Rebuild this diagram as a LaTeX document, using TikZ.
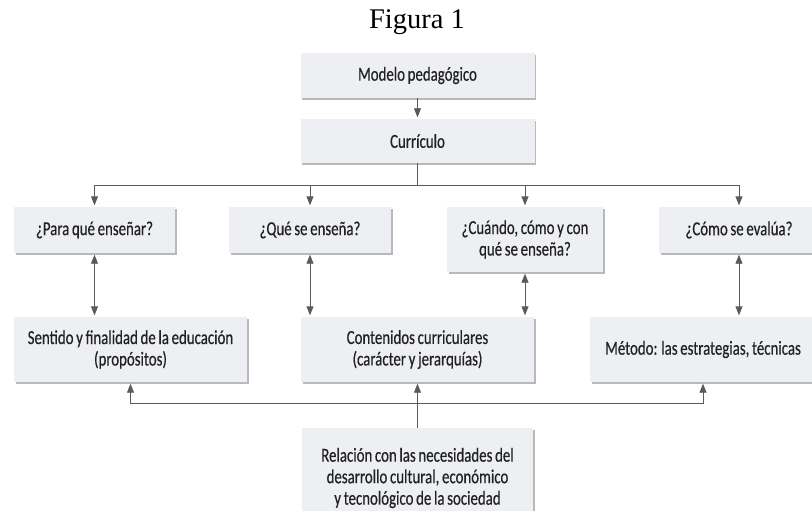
\documentclass[tikz,border=0pt]{standalone}
\usepackage{fontspec}
\setmainfont{Carlito}[FakeStretch=0.75,FakeBold=0.45,WordSpace=0.8]
\newfontfamily\titlefont{Liberation Serif}
\usetikzlibrary{arrows.meta,shadows}
\definecolor{boxfill}{HTML}{EDEFF2}
\definecolor{shadowc}{HTML}{B8B9BB}
\definecolor{linec}{HTML}{5A5A5A}
\definecolor{textc}{HTML}{222222}
\begin{document}
\begin{tikzpicture}[x=1pt,y=-1pt,
  box/.style={fill=boxfill, drop shadow={shadow xshift=1.8pt,shadow yshift=-1.8pt,fill=shadowc,opacity=1},
    align=center, text=textc, font=\fontsize{19.8}{21.5}\selectfont, inner sep=0pt},
  wire/.style={draw=linec, line width=0.9pt},
  conn/.style={wire, -{Triangle[length=9pt,width=7pt]}, shorten >=1.5pt},
  conntwo/.style={wire, {Triangle[length=9pt,width=7pt]}-{Triangle[length=9pt,width=7pt]}, shorten >=1.5pt, shorten <=1.5pt}]
\useasboundingbox (0,0) rectangle (812,511);
\fill[white] (0,0) rectangle (812,511);

\node[anchor=base, font=\titlefont\fontsize{28.5}{30}\selectfont, text=black] (title) at (417,29) {Figura 1};

\node[box, minimum width=234pt, minimum height=45pt] (modelo) at (417.5,75.5) {Modelo pedagógico};
\node[box, minimum width=234pt, minimum height=44pt] (curr) at (417.5,141) {Currículo};

\node[box, minimum width=161pt, minimum height=46pt] (q1) at (94.5,230) {¿Para qué enseñar?};
\node[box, minimum width=162pt, minimum height=46pt] (q2) at (310,230) {¿Qué se enseña?};
\node[box, minimum width=156pt, minimum height=65pt] (q3) at (525,239.5) {¿Cuándo, cómo y con\\qué se enseña?};
\node[box, minimum width=160pt, minimum height=46pt] (q4) at (739,230) {¿Cómo se evalúa?};

\node[box, minimum width=233pt, minimum height=65pt] (r1) at (130.5,349.5) {Sentido y finalidad de la educación\\(propósitos)};
\node[box, minimum width=233pt, minimum height=65pt] (r2) at (417.5,349.5) {Contenidos curriculares\\(carácter y jerarquías)};
\node[box, minimum width=226pt, minimum height=65pt] (r3) at (703,349.5) {Método: las estrategias, técnicas};

\node[box, minimum width=231pt, minimum height=100pt] (bot) at (417.5,478) {Relación con las necesidades del\\desarrollo cultural, económico\\y tecnológico de la sociedad};

\coordinate (busy) at (0,185);
\coordinate (busb) at (0,403);

\draw[conn] (modelo) -- (curr);
\draw[wire] (curr.south) -- (curr.south |- busy) coordinate (hub);
\draw[conn] (hub) -| (q1.north);
\draw[conn] (hub) -| (q2.north);
\draw[conn] (hub) -| (q3.north);
\draw[conn] (hub) -| (q4.north);

\draw[conntwo] (q1.south) -- (q1.south |- r1.north);
\draw[conntwo] (q2.south) -- (q2.south |- r2.north);
\draw[conntwo] (q3.south) -- (q3.south |- r2.north);
\draw[conntwo] (q4.south) -- (q4.south |- r3.north);

\draw[conn] (bot.north) -- (r2.south);
\coordinate (hubb) at (bot.north |- busb);
\draw[conn] (hubb) -| (r1.south);
\draw[conn] (hubb) -| (r3.south);
\end{tikzpicture}
\end{document}
